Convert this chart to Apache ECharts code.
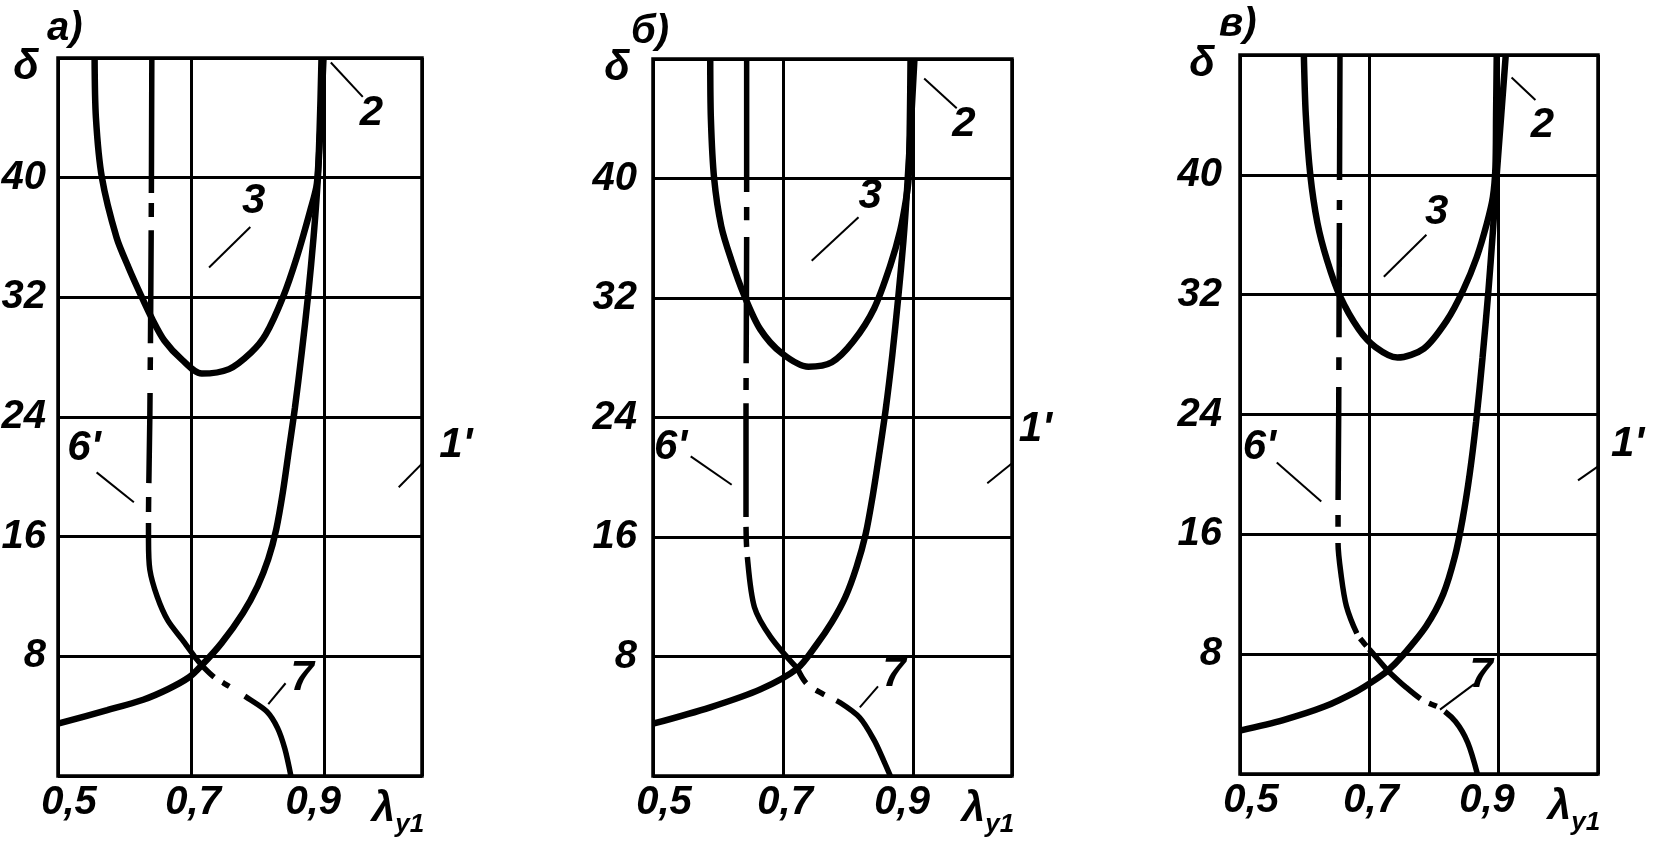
<!DOCTYPE html>
<html><head><meta charset="utf-8">
<script src="https://cdn.jsdelivr.net/npm/echarts@6/dist/echarts.min.js"></script>
<style>html,body{margin:0;padding:0;background:#fff}#c{width:1654px;height:844px}</style>
</head><body><div id="c"></div>
<script>
// ---- tick labels / text ----
const xTicks = [0.5, 0.7, 0.9];
const xTickLabels = ['0,5', '0,7', '0,9'];
const yTicks = [8, 16, 24, 32, 40];
const yTopLabel = 'δ';
const panelTitles = ['а)', 'б)', 'в)'];

// ---- panel а) curves [λ, δ] ----
const curve2_a = [[0.5,3.5],[0.574,4.4],[0.628,5.1],[0.665,5.8],[0.697,6.6],[0.716,7.4],[0.746,8.9],[0.778,10.9],[0.8,12.7],[0.816,14.5],[0.828,16.5],[0.838,19],[0.847,21.8],[0.856,24.6],[0.866,28.2],[0.876,32.2],[0.884,36],[0.89,39.6],[0.895,44],[0.899,48]];
const curve3_a = [[0.555,48],[0.557,44],[0.566,40],[0.588,36],[0.606,34],[0.625,32.1],[0.641,30.6],[0.66,29.1],[0.687,27.8],[0.716,26.9],[0.757,27.2],[0.79,28.3],[0.812,29.5],[0.838,32],[0.859,34.7],[0.879,37.8],[0.889,39.6],[0.893,43],[0.896,48]];
const curve6_a = [[0.641,48],[0.640,36],[0.638,24],[0.636,17],[0.636,15.8],[0.638,13.8],[0.649,12],[0.665,10.4],[0.687,9.1],[0.705,8],[0.716,7.4]];
const curve7_a = [[0.716,7.4],[0.735,6.6],[0.757,6.0],[0.789,5.1],[0.814,4.3],[0.83,3.2],[0.841,1.8],[0.85,0]];

// ---- panel б) curves ----
const curve2_b = [[0.5,3.5],[0.588,4.6],[0.665,5.8],[0.722,7.2],[0.75,8.7],[0.775,10.3],[0.796,12.0],[0.813,14.0],[0.827,16.2],[0.838,18.8],[0.848,21.6],[0.858,24.6],[0.868,28.2],[0.877,32],[0.885,35.8],[0.891,39.5],[0.897,44],[0.902,48]];
const curve3_b = [[0.588,48],[0.589,44],[0.594,40],[0.605,36.8],[0.62,34.6],[0.64,32.2],[0.665,29.9],[0.698,28.3],[0.739,27.4],[0.775,27.7],[0.808,29.1],[0.84,31.3],[0.865,34.2],[0.88,36.5],[0.889,38.6],[0.893,40],[0.895,44],[0.896,48]];
const curve6_b = [[0.644,48],[0.644,36],[0.643,24],[0.643,17],[0.645,14.7],[0.656,11.3],[0.681,9.3],[0.722,7.2]];
const curve7_b = [[0.722,7.2],[0.736,6.2],[0.761,5.5],[0.788,4.9],[0.818,3.9],[0.84,2.4],[0.855,1.0],[0.865,0]];

// ---- panel в) curves ----
const curve2_c = [[0.5,2.9],[0.567,3.6],[0.631,4.5],[0.68,5.5],[0.71,6.3],[0.729,6.9],[0.752,7.9],[0.789,9.9],[0.815,12.0],[0.833,14.5],[0.845,17],[0.856,20],[0.866,23.5],[0.876,27.8],[0.885,32.2],[0.892,36.2],[0.898,40],[0.905,44],[0.912,48]];
const curve3_c = [[0.599,48],[0.602,44],[0.609,40],[0.62,36.8],[0.635,34.3],[0.655,31.9],[0.684,29.7],[0.71,28.5],[0.744,27.8],[0.785,28.4],[0.821,30.3],[0.846,32.3],[0.867,34.5],[0.883,36.8],[0.892,38.5],[0.896,40.5],[0.897,44],[0.898,48]];
const curve6_c = [[0.655,48],[0.654,36],[0.653,24],[0.652,17],[0.652,15.4],[0.657,13.2],[0.665,11.2],[0.681,9.4],[0.691,8.8],[0.705,8.1],[0.729,6.9]];
const curve7_c = [[0.729,6.9],[0.757,5.8],[0.784,4.9],[0.81,4.4],[0.834,3.5],[0.853,2.1],[0.868,0]];

// ---- curve labels: text, label anchor, leader from/to (data units) ----
const notes_a = [
  {t:'2',  at:[0.971,44.3], from:[0.910,47.7], to:[0.958,45.4]},
  {t:'3',  at:[0.794,38.4], from:[0.789,36.7], to:[0.727,34.0]},
  {t:"6'", at:[0.539,21.9], from:[0.558,20.3], to:[0.614,18.3]},
  {t:"1'", at:[1.098,22.1], from:[1.012,19.3], to:[1.063,21.6]},
  {t:'7',  at:[0.867,6.5],  from:[0.816,4.8],  to:[0.842,6.2]}
];
const notes_b = [
  {t:'2',  at:[0.978,43.6], from:[0.917,46.7], to:[0.967,44.7]},
  {t:'3',  at:[0.834,38.8], from:[0.816,37.4], to:[0.744,34.5]},
  {t:"6'", at:[0.527,22.0], from:[0.558,21.4], to:[0.621,19.5]},
  {t:"1'", at:[1.088,23.2], from:[1.014,19.6], to:[1.071,21.6]},
  {t:'7',  at:[0.871,6.8],  from:[0.818,4.6],  to:[0.846,6.0]}
];
const notes_c = [
  {t:'2',  at:[0.969,43.3], from:[0.921,46.5], to:[0.958,45.0]},
  {t:'3',  at:[0.805,37.5], from:[0.789,36.0], to:[0.723,33.2]},
  {t:"6'", at:[0.530,21.8], from:[0.557,20.8], to:[0.626,18.2]},
  {t:"1'", at:[1.101,22.0], from:[1.024,19.6], to:[1.074,21.1]},
  {t:'7',  at:[0.874,6.6],  from:[0.810,4.3],  to:[0.863,6.0]}
];

const panels = [
  {c2:curve2_a, c3:curve3_a, c6:curve6_a, c7:curve7_a, notes:notes_a},
  {c2:curve2_b, c3:curve3_b, c6:curve6_b, c7:curve7_b, notes:notes_b},
  {c2:curve2_c, c3:curve3_c, c6:curve6_c, c7:curve7_c, notes:notes_c}
];

// ---- layout / styles ----
const FONT = '"Liberation Sans Narrow", "Liberation Sans", Arial, sans-serif';
const layout = [
  {left:58,  top:58, width:364, height:718, xMax:1.047, yGap:12, title:[42,4],
   dash6:[135,10,14,13,113,14,13,23,90,14,15,11,900], dash7:[17,10,8,18,500]},
  {left:653, top:59, width:359, height:717, xMax:1.052, yGap:16, title:[626,7],
   dash6:[133,15,13,17,126,15,12,13,114,10,20,10,900], dash7:[17,12,10,13,500]},
  {left:1240,top:55, width:358, height:719, xMax:1.055, yGap:18, title:[1214,0],
   dash6:[125,20,10,13,114,20,13,17,113,15,12,16,93,6,10,4,900], dash7:[43,10,8,10,500]}
];
const txt = {color:'#000', fontFamily:FONT, fontStyle:'italic', fontWeight:'bold'};
const xLabelRich = {
  p0: Object.assign({}, txt, {fontSize:40, padding:[0,0,0,22]}),
  p1: Object.assign({}, txt, {fontSize:40, padding:[0,0,0,4]}),
  p2: Object.assign({}, txt, {fontSize:40, padding:[0,22,0,0]})
};

const grids = [], xAxes = [], yAxes = [], series = [], titles = [];
layout.forEach((L, i) => {
  grids.push({left:L.left, top:L.top, width:L.width, height:L.height, show:true,
    borderColor:'#000', borderWidth:3.5, backgroundColor:'transparent', outerBoundsMode:'none', containLabel:false});
  xAxes.push({gridIndex:i, type:'value', min:0.5, max:L.xMax, interval:0.2,
    axisLine:{show:false}, axisTick:{show:false},
    splitLine:{show:true, lineStyle:{color:'#000', width:3}},
    axisLabel:Object.assign({}, txt, {fontSize:40, margin:7, showMinLabel:true, showMaxLabel:false, hideOverlap:false,
      rich:xLabelRich,
      formatter: v => { const k = xTicks.findIndex(t => Math.abs(t - v) < 1e-6); return k >= 0 ? '{p' + k + '|' + xTickLabels[k] + '}' : ''; }}),
    name:'{l|λ}{s|y1}', nameLocation:'end', nameGap:-24,
    nameTextStyle:{align:'center', verticalAlign:'top', padding:[4,0,0,0],
      rich:{l:Object.assign({}, txt, {fontSize:42, lineHeight:58}),
            s:Object.assign({}, txt, {fontSize:26, lineHeight:26, verticalAlign:'bottom'})}}
  });
  yAxes.push({gridIndex:i, type:'value', min:0, max:48, interval:8,
    axisLine:{show:false}, axisTick:{show:false},
    splitLine:{show:true, lineStyle:{color:'#000', width:3}},
    axisLabel:Object.assign({}, txt, {fontSize:40, margin:L.yGap, showMaxLabel:true, showMinLabel:false, hideOverlap:false,
      formatter: v => v === 48 ? '{d|' + yTopLabel + '}' : (yTicks.includes(v) ? String(v) : ''),
      rich:{d:Object.assign({}, txt, {fontSize:42, padding:[18,7,0,0]})}})
  });
  titles.push({text:panelTitles[i], left:L.title[0], top:L.title[1],
    textStyle:Object.assign({}, txt, {fontSize:40})});

  const P = panels[i];
  const base = {type:'line', xAxisIndex:i, yAxisIndex:i, showSymbol:false, symbol:'none',
    animation:false, silent:true, clip:true};
  series.push(Object.assign({}, base, {name:'2', data:P.c2, smooth:0.3,
    lineStyle:{color:'#000', width:6.5}}));
  series.push(Object.assign({}, base, {name:'3', data:P.c3, smooth:0.3,
    lineStyle:{color:'#000', width:6.5}}));
  series.push(Object.assign({}, base, {name:"6'", data:P.c6, smooth:0.3,
    lineStyle:{color:'#000', width:5.5, type:L.dash6, cap:'butt'}}));
  series.push(Object.assign({}, base, {name:'7', data:P.c7, smooth:0.3,
    lineStyle:{color:'#000', width:5.5, type:L.dash7, cap:'butt'}}));
  P.notes.forEach(n => {
    series.push(Object.assign({}, base, {name:'leader ' + n.t, data:[n.from, n.to], clip:false,
      lineStyle:{color:'#000', width:2}}));
  });
  series.push({type:'scatter', xAxisIndex:i, yAxisIndex:i, silent:true, animation:false, clip:false,
    symbol:'circle', symbolSize:1, itemStyle:{color:'rgba(0,0,0,0)', opacity:1},
    data:P.notes.map(n => ({name:n.t, value:n.at})),
    label:Object.assign({}, txt, {show:true, position:'inside', fontSize:42, formatter:'{b}'})
  });
});

const chart = echarts.init(document.getElementById('c'), null, {renderer:'canvas'});
chart.setOption({
  animation:false,
  backgroundColor:'#fff',
  title:titles,
  grid:grids, xAxis:xAxes, yAxis:yAxes, series:series
});
</script>
</body></html>
